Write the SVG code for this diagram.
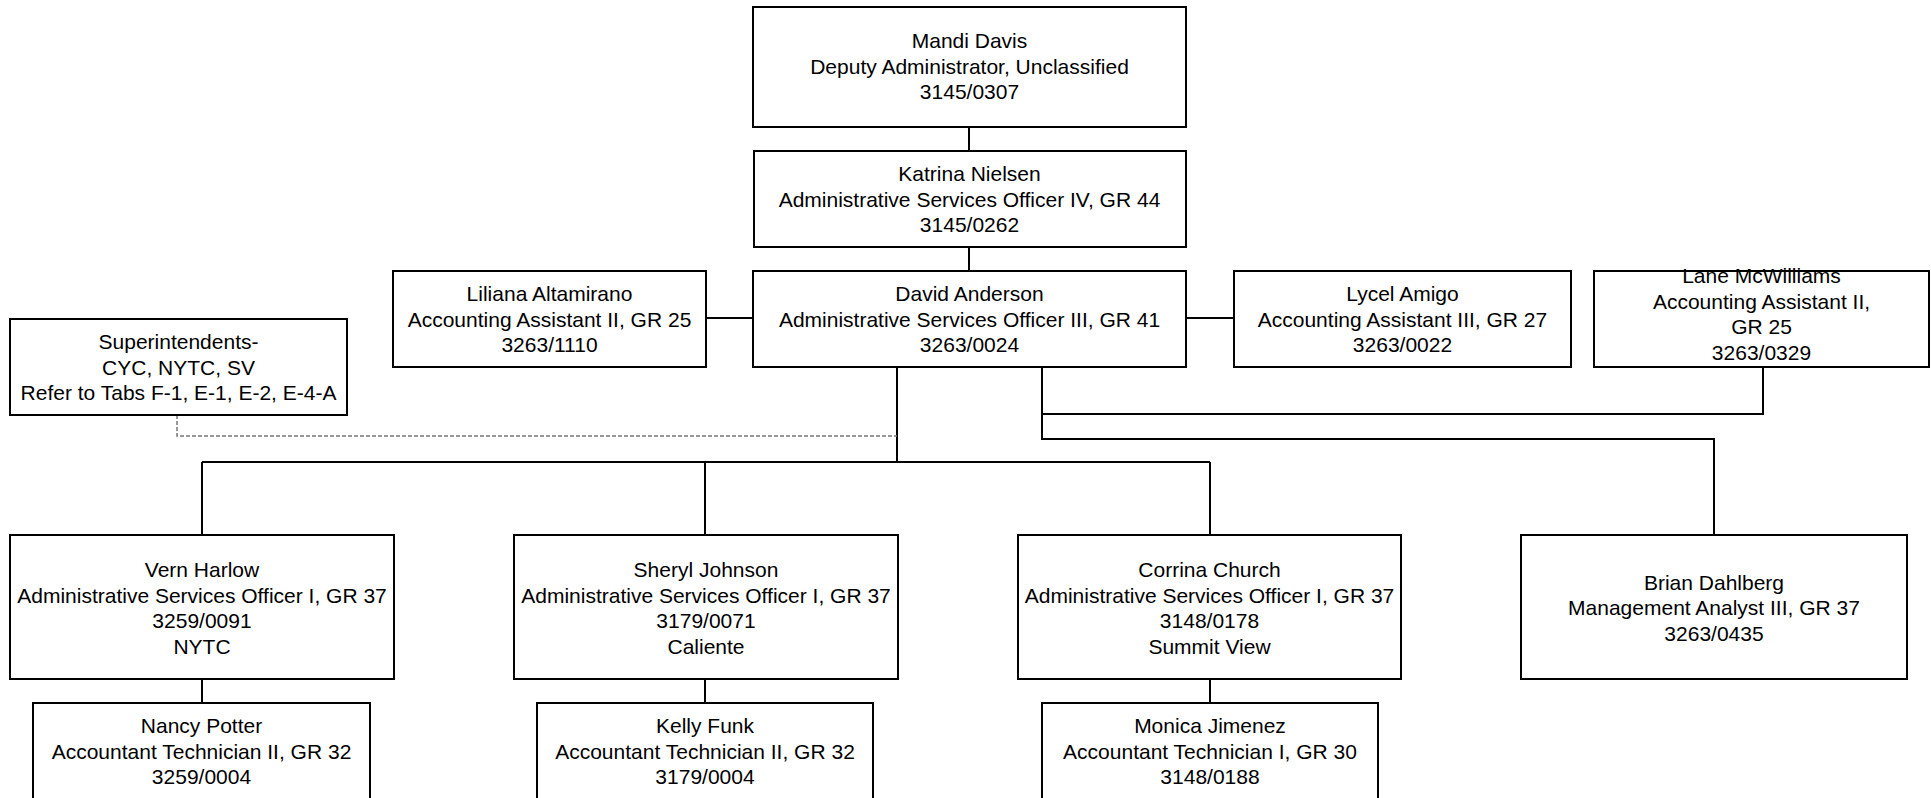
<svg xmlns="http://www.w3.org/2000/svg" width="1931" height="798" viewBox="0 0 1931 798">
<style>
.box{fill:#fff;stroke:#000;stroke-width:2}
.ln{fill:none;stroke:#000;stroke-width:2}
.dash{fill:none;stroke:#777;stroke-width:1.5;stroke-dasharray:4 2}
text{font-family:"Liberation Sans",Arial,sans-serif;font-size:21px;fill:#000;text-anchor:middle}
</style>
<rect width="1931" height="798" fill="#fff"/>
<g id="connectors">
<path class="ln" d="M969 127V151M969 247V271"/>
<path class="ln" d="M706 318H753M1186 318H1234"/>
<path class="ln" d="M897 367V462M202 462H1210M202 462V535M705 462V535M1210 462V535"/>
<path class="ln" d="M202 679V703M705 679V703M1210 679V703"/>
<path class="ln" d="M1042 367V439H1714V535M1042 414H1763V367"/>
<path class="dash" d="M177 415V436H897"/>
</g>
<g id="mandi"><rect class="box" x="753" y="7" width="433" height="120"/>
<text x="969.5" y="48">Mandi Davis</text><text x="969.5" y="74">Deputy Administrator, Unclassified</text><text x="969.5" y="99">3145/0307</text></g>
<g id="katrina"><rect class="box" x="754" y="151" width="432" height="96"/>
<text x="969.5" y="181">Katrina Nielsen</text><text x="969.5" y="206.5">Administrative Services Officer IV, GR 44</text><text x="969.5" y="232">3145/0262</text></g>
<g id="david"><rect class="box" x="753" y="271" width="433" height="96"/>
<text x="969.5" y="301">David Anderson</text><text x="969.5" y="326.5">Administrative Services Officer III, GR 41</text><text x="969.5" y="352">3263/0024</text></g>
<g id="liliana"><rect class="box" x="393" y="271" width="313" height="96"/>
<text x="549.5" y="301">Liliana Altamirano</text><text x="549.5" y="326.5">Accounting Assistant II, GR 25</text><text x="549.5" y="352">3263/1110</text></g>
<g id="lycel"><rect class="box" x="1234" y="271" width="337" height="96"/>
<text x="1402.5" y="301">Lycel Amigo</text><text x="1402.5" y="326.5">Accounting Assistant III, GR 27</text><text x="1402.5" y="352">3263/0022</text></g>
<g id="lane"><rect class="box" x="1594" y="271" width="335" height="96"/>
<text x="1761.5" y="283">Lane McWilliams</text><text x="1761.5" y="308.5">Accounting Assistant II,</text><text x="1761.5" y="334">GR 25</text><text x="1761.5" y="359.5">3263/0329</text></g>
<g id="superintendents"><rect class="box" x="10" y="319" width="337" height="96"/>
<text x="178.5" y="349">Superintendents-</text><text x="178.5" y="374.5">CYC, NYTC, SV</text><text x="178.5" y="400">Refer to Tabs F-1, E-1, E-2, E-4-A</text></g>
<g id="vern"><rect class="box" x="10" y="535" width="384" height="144"/>
<text x="202" y="577">Vern Harlow</text><text x="202" y="602.5">Administrative Services Officer I, GR 37</text><text x="202" y="628">3259/0091</text><text x="202" y="653.5">NYTC</text></g>
<g id="sheryl"><rect class="box" x="514" y="535" width="384" height="144"/>
<text x="706" y="577">Sheryl Johnson</text><text x="706" y="602.5">Administrative Services Officer I, GR 37</text><text x="706" y="628">3179/0071</text><text x="706" y="653.5">Caliente</text></g>
<g id="corrina"><rect class="box" x="1018" y="535" width="383" height="144"/>
<text x="1209.5" y="577">Corrina Church</text><text x="1209.5" y="602.5">Administrative Services Officer I, GR 37</text><text x="1209.5" y="628">3148/0178</text><text x="1209.5" y="653.5">Summit View</text></g>
<g id="brian"><rect class="box" x="1521" y="535" width="386" height="144"/>
<text x="1714" y="589.5">Brian Dahlberg</text><text x="1714" y="615">Management Analyst III, GR 37</text><text x="1714" y="640.5">3263/0435</text></g>
<g id="nancy"><rect class="box" x="33" y="703" width="337" height="98"/>
<text x="201.5" y="733">Nancy Potter</text><text x="201.5" y="758.5">Accountant Technician II, GR 32</text><text x="201.5" y="784">3259/0004</text></g>
<g id="kelly"><rect class="box" x="537" y="703" width="336" height="98"/>
<text x="705" y="733">Kelly Funk</text><text x="705" y="758.5">Accountant Technician II, GR 32</text><text x="705" y="784">3179/0004</text></g>
<g id="monica"><rect class="box" x="1042" y="703" width="336" height="98"/>
<text x="1210" y="733">Monica Jimenez</text><text x="1210" y="758.5">Accountant Technician I, GR 30</text><text x="1210" y="784">3148/0188</text></g>
</svg>
